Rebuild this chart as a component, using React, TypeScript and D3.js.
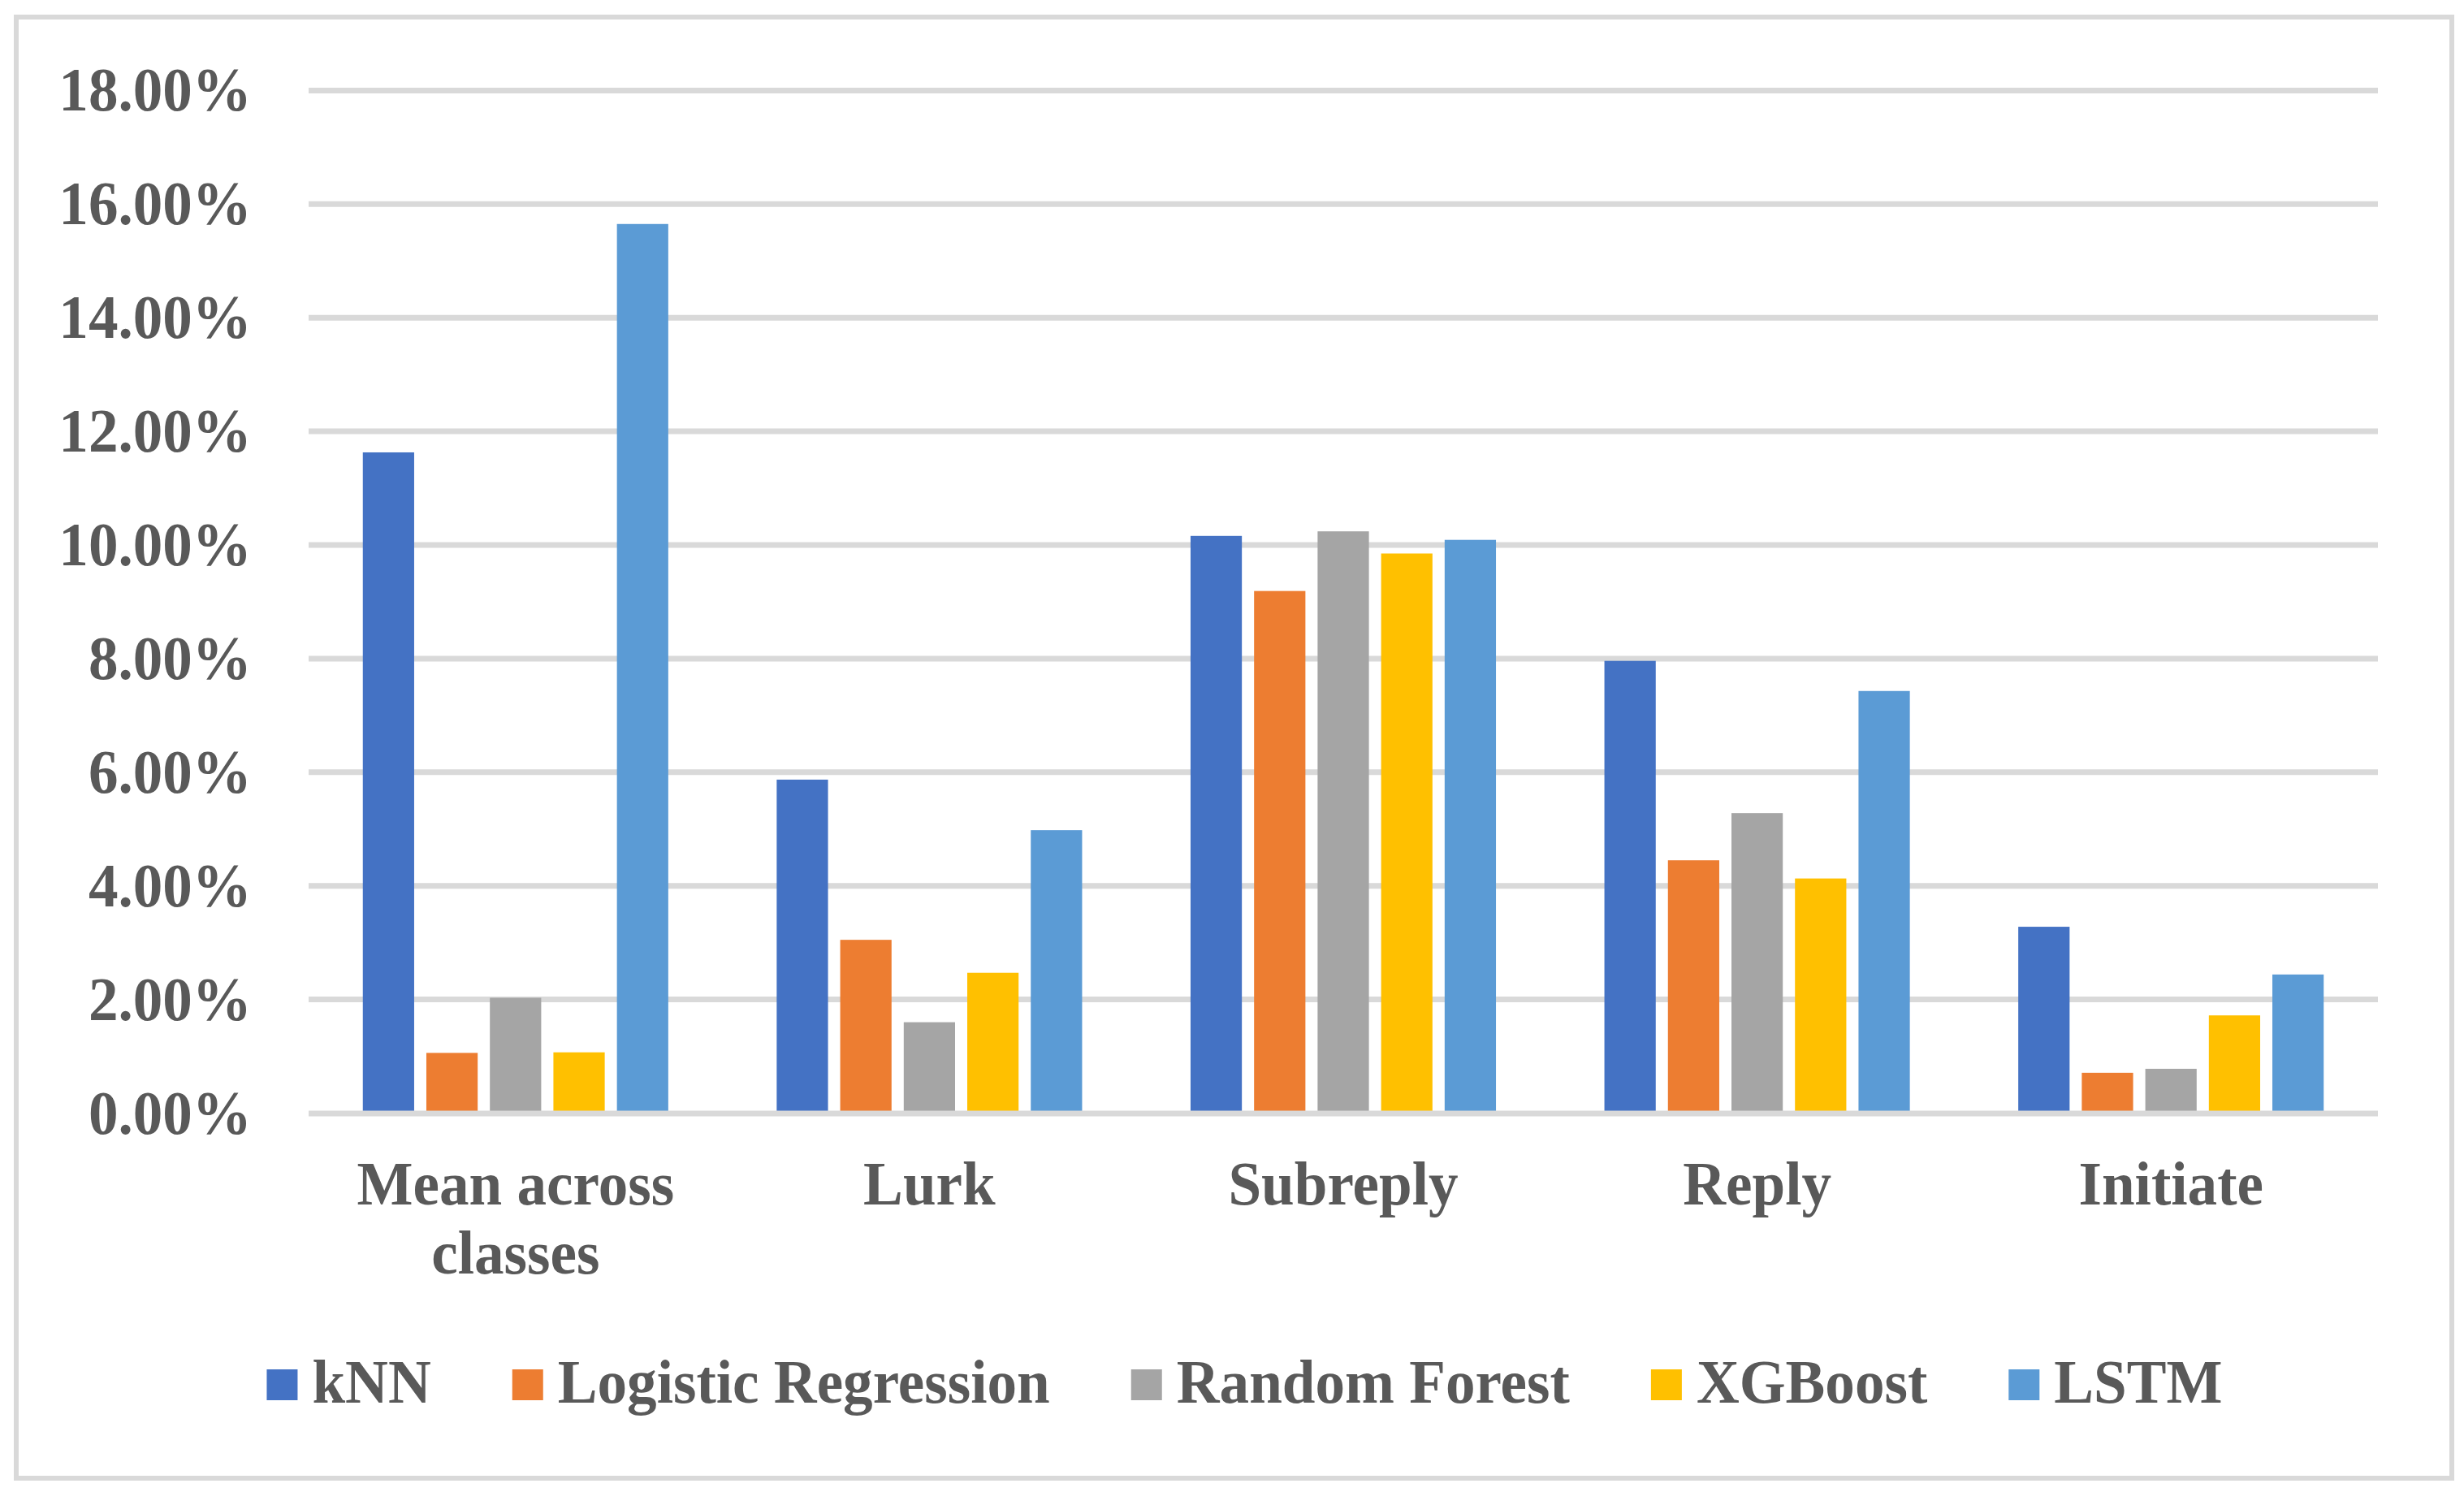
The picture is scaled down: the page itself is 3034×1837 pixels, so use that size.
import { useEffect, useRef } from 'react';
import * as d3 from 'd3';

const categories = ['Mean across classes', 'Lurk', 'Subreply', 'Reply', 'Initiate'];
const seriesNames = ['kNN', 'Logistic Regression', 'Random Forest', 'XGBoost', 'LSTM'];
const seriesColors = ['#4472C4', '#ED7D31', '#A5A5A5', '#FFC000', '#5B9BD5'];

// values in percent
const knn = [11.63, 5.87, 10.16, 7.96, 3.28];
const logisticRegression = [1.06, 3.05, 9.19, 4.45, 0.71];
const randomForest = [2.03, 1.6, 10.24, 5.28, 0.78];
const xgBoost = [1.07, 2.47, 9.85, 4.13, 1.72];
const lstm = [15.65, 4.98, 10.09, 7.43, 2.44];

const yTicks = [0, 2, 4, 6, 8, 10, 12, 14, 16, 18];

const WIDTH = 3034;
const HEIGHT = 1837;
const FONT = '"Liberation Serif", "Times New Roman", serif';
const FONT_SIZE = 77;
const SQUEEZE = 0.95; // the original text is slightly narrower than it is tall
const TEXT_COLOR = '#595959';
const GRID_COLOR = '#D9D9D9';

const App = () => {
  const svgRef = useRef<SVGSVGElement | null>(null);

  useEffect(() => {
    const svg = d3.select(svgRef.current);
    svg.selectAll('*').remove();

    const allSeries = [knn, logisticRegression, randomForest, xgBoost, lstm];

    // plot area
    const left = 380;
    const right = 2928;
    const top = 111.4;
    const bottom = 1370.5;

    const x0 = d3.scaleBand()
      .domain(categories)
      .range([left, right])
      .paddingInner(0.262)
      .paddingOuter(0.131);

    const x1 = d3.scaleBand()
      .domain(seriesNames)
      .range([0, x0.bandwidth()])
      .paddingInner(0.192);

    const y = d3.scaleLinear()
      .domain([0, 18])
      .range([bottom, top]);

    // chart background and border
    svg.append('rect')
      .attr('x', 20)
      .attr('y', 21)
      .attr('width', 2999)
      .attr('height', 1799)
      .attr('fill', '#fff')
      .attr('stroke', GRID_COLOR)
      .attr('stroke-width', 6);

    // gridlines
    svg.append('g')
      .selectAll('line')
      .data(yTicks.filter(t => t > 0))
      .enter()
      .append('line')
      .attr('x1', left)
      .attr('x2', right)
      .attr('y1', d => y(d))
      .attr('y2', d => y(d))
      .attr('stroke', GRID_COLOR)
      .attr('stroke-width', 7);

    // y tick labels
    svg.append('g')
      .selectAll('text')
      .data(yTicks)
      .enter()
      .append('text')
      .attr('transform', d => `translate(310,${y(d) + 25}) scale(${SQUEEZE},1)`)
      .attr('text-anchor', 'end')
      .attr('font-family', FONT)
      .attr('font-weight', 'bold')
      .attr('font-size', FONT_SIZE)
      .attr('fill', TEXT_COLOR)
      .text(d => `${d3.format('.2f')(d)}%`);

    // bars
    const groups = svg.append('g')
      .selectAll('g')
      .data(categories)
      .enter()
      .append('g')
      .attr('transform', d => `translate(${x0(d)},0)`);

    groups.selectAll('rect')
      .data((_, i) => seriesNames.map((name, s) => ({ name, value: allSeries[s][i], color: seriesColors[s] })))
      .enter()
      .append('rect')
      .attr('x', d => x1(d.name)!)
      .attr('y', d => y(d.value))
      .attr('width', x1.bandwidth())
      .attr('height', d => y(0) - y(d.value))
      .attr('fill', d => d.color);

    // horizontal axis line, drawn over the bars
    svg.append('line')
      .attr('x1', left)
      .attr('x2', right)
      .attr('y1', y(0) + 0.5)
      .attr('y2', y(0) + 0.5)
      .attr('stroke', GRID_COLOR)
      .attr('stroke-width', 7);

    // category labels, wrapped to the band width
    const maxLabelWidth = x0.step() * 0.9;
    categories.forEach(cat => {
      const cx = x0(cat)! + x0.bandwidth() / 2;
      const text = svg.append('text')
        .attr('transform', `translate(${cx},1483) scale(${SQUEEZE},1)`)
        .attr('text-anchor', 'middle')
        .attr('font-family', FONT)
        .attr('font-weight', 'bold')
        .attr('font-size', FONT_SIZE)
        .attr('fill', TEXT_COLOR);
      const words = cat.split(' ');
      let line: string[] = [];
      let tspan = text.append('tspan').attr('x', 0).attr('dy', 0);
      words.forEach(w => {
        line.push(w);
        tspan.text(line.join(' '));
        const width = (tspan.node() as SVGTSpanElement).getComputedTextLength() * SQUEEZE;
        if (width > maxLabelWidth && line.length > 1) {
          line.pop();
          tspan.text(line.join(' '));
          line = [w];
          tspan = text.append('tspan').attr('x', 0).attr('dy', 85).text(w);
        }
      });
    });

    // legend
    const legend = svg.append('g');
    const swatch = 38;
    const textGap = 18;
    const itemGap = 100;
    let cursor = 0;
    seriesNames.forEach((name, i) => {
      const item = legend.append('g').attr('transform', `translate(${cursor},0)`);
      item.append('rect')
        .attr('x', 0)
        .attr('y', 1686)
        .attr('width', swatch)
        .attr('height', swatch)
        .attr('fill', seriesColors[i]);
      const t = item.append('text')
        .attr('transform', `translate(${swatch + textGap},1727) scale(${SQUEEZE},1)`)
        .attr('font-family', FONT)
        .attr('font-weight', 'bold')
        .attr('font-size', FONT_SIZE)
        .attr('fill', TEXT_COLOR)
        .text(name);
      const w = (t.node() as SVGTextElement).getComputedTextLength() * SQUEEZE;
      cursor += swatch + textGap + w + (i < seriesNames.length - 1 ? itemGap : 0);
    });
    legend.attr('transform', `translate(${1532.5 - cursor / 2},0)`);
  }, []);

  return (
    <svg
      ref={svgRef}
      width={WIDTH}
      height={HEIGHT}
      style={{ position: 'absolute', left: 0, top: 0, background: '#fff' }}
    />
  );
};

export default App;
